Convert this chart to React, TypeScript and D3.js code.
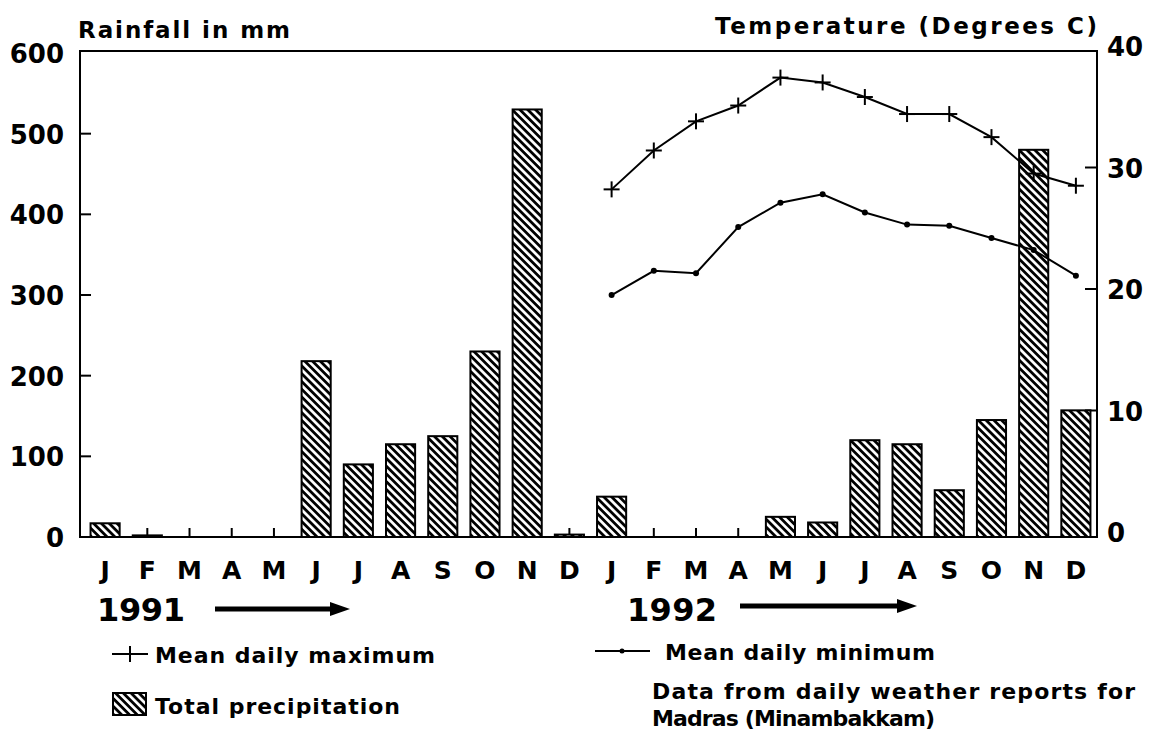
import React from "react";
import { scaleBand, scaleLinear, line } from "d3";

// month initials, 1991 then 1992
const months = ["J", "F", "M", "A", "M", "J", "J", "A", "S", "O", "N", "D"];
const years = ["1991", "1992"];

// total precipitation, mm
const rain1991 = [17, 2, 0, 0, 0, 218, 90, 115, 125, 230, 530, 3];
const rain1992 = [50, 0, 0, 0, 25, 18, 120, 115, 58, 145, 480, 157];

// temperatures, 1992 only (degrees C)
const tMax1992 = [28.2, 31.4, 33.8, 35.1, 37.4, 37.0, 35.8, 34.4, 34.4, 32.5, 29.5, 28.5];
const tMin1992 = [19.5, 21.5, 21.3, 25.1, 27.1, 27.8, 26.3, 25.3, 25.2, 24.2, 23.2, 21.1];

const rainTicks = [0, 100, 200, 300, 400, 500, 600];
const tempTicks = [0, 10, 20, 30, 40];

const keys = years.flatMap((y) => months.map((m, i) => `${y}-${i}`));
const rain = [...rain1991, ...rain1992];

export default function App() {
  const width = 1149;
  const height = 730;
  const left = 80;
  const right = 1097;
  const top = 51;
  const bottom = 537;
  const font = "'DejaVu Sans', 'Liberation Sans', sans-serif";

  const x = scaleBand<string>()
    .domain(keys)
    .range([84, right])
    .paddingInner(0.31)
    .paddingOuter(0.155);
  const yL = scaleLinear().domain([0, 600]).range([bottom, 53]);
  const yR = scaleLinear().domain([0, 40]).range([532, 46]);

  const cx = (k: string) => (x(k) as number) + x.bandwidth() / 2;
  const keys92 = keys.slice(12);

  const tempLine = line<number>()
    .x((_, i) => cx(keys92[i]))
    .y((d) => yR(d));

  const plus = (px: number, py: number, s: number, k: string) => (
    <g key={k} stroke="#000" strokeWidth={2}>
      <line x1={px - s} x2={px + s} y1={py} y2={py} />
      <line x1={px} x2={px} y1={py - s} y2={py + s} />
    </g>
  );

  const arrow = (x1: number, x2: number, y: number) => (
    <g>
      <line x1={x1} x2={x2 - 16} y1={y} y2={y} stroke="#000" strokeWidth={5} />
      <path d={`M${x2 - 20},${y - 7} L${x2},${y} L${x2 - 20},${y + 7} Z`} fill="#000" />
    </g>
  );

  return (
    <svg width={width} height={height} style={{ position: "absolute", left: 0, top: 0 }} fontFamily={font} fontWeight="bold">
      <defs>
        <pattern id="hatch" width={5.5} height={5.5} patternUnits="userSpaceOnUse" patternTransform="rotate(45)">
          <rect width={5.5} height={5.5} fill="#fff" />
          <rect width={5.5} height={2.8} fill="#000" />
        </pattern>
      </defs>
      <rect width={width} height={height} fill="#fff" />

      {/* axis titles */}
      <text x={78} y={38} fontSize={23} textLength={212}>Rainfall in mm</text>
      <text x={715} y={34} fontSize={23} textLength={382}>Temperature (Degrees C)</text>

      {/* left axis */}
      {rainTicks.map((d) => (
        <g key={d}>
          {d > 0 && d < 600 && <line x1={left} x2={left + 11} y1={yL(d)} y2={yL(d)} stroke="#000" strokeWidth={2} />}
          <text x={64} y={yL(d) + 10} fontSize={26} textAnchor="end">{d}</text>
        </g>
      ))}

      {/* right axis */}
      {tempTicks.map((d) => (
        <g key={d}>
          {d > 0 && d < 40 && <line x1={right - 12} x2={right} y1={yR(d)} y2={yR(d)} stroke="#000" strokeWidth={2} />}
          <text x={1107} y={yR(d) + 10} fontSize={26}>{d}</text>
        </g>
      ))}

      {/* small month ticks on baseline */}
      {keys.map((k) => (
        <line key={k} x1={cx(k)} x2={cx(k)} y1={bottom} y2={bottom - 9} stroke="#000" strokeWidth={2} />
      ))}

      {/* bars */}
      {keys.map((k, i) =>
        rain[i] > 0 ? (
          <rect
            key={k}
            x={x(k)}
            y={yL(rain[i])}
            width={x.bandwidth()}
            height={bottom - yL(rain[i])}
            fill="url(#hatch)"
            stroke="#000"
            strokeWidth={2}
          />
        ) : null
      )}

      {/* frame */}
      <rect x={left} y={top} width={right - left} height={bottom - top} fill="none" stroke="#000" strokeWidth={2} />

      {/* temperature lines */}
      <path d={tempLine(tMax1992) as string} fill="none" stroke="#000" strokeWidth={2} />
      {tMax1992.map((d, i) => plus(cx(keys92[i]), yR(d), 8, `mx${i}`))}
      <path d={tempLine(tMin1992) as string} fill="none" stroke="#000" strokeWidth={2} />
      {tMin1992.map((d, i) => (
        <circle key={`mn${i}`} cx={cx(keys92[i])} cy={yR(d)} r={3} fill="#000" />
      ))}

      {/* month labels */}
      {keys.map((k, i) => (
        <text key={k} x={cx(k)} y={579} fontSize={25} textAnchor="middle">
          {months[i % 12]}
        </text>
      ))}

      {/* years */}
      <text x={97} y={621} fontSize={32} textLength={88}>{years[0]}</text>
      {arrow(215, 350, 609)}
      <text x={627} y={621} fontSize={32} textLength={90}>{years[1]}</text>
      {arrow(740, 917, 606)}

      {/* legend */}
      <line x1={112} x2={148} y1={654} y2={654} stroke="#000" strokeWidth={2} />
      {plus(130, 654, 8, "lg")}
      <text x={155} y={663} fontSize={22} textLength={280}>Mean daily maximum</text>

      <line x1={595} x2={650} y1={651} y2={651} stroke="#000" strokeWidth={2} />
      <circle cx={622} cy={651} r={2.5} fill="#000" />
      <text x={665} y={660} fontSize={22} textLength={270}>Mean daily minimum</text>

      <rect x={113} y={693} width={33} height={22} fill="url(#hatch)" stroke="#000" strokeWidth={2} />
      <text x={155} y={714} fontSize={22} textLength={245}>Total precipitation</text>

      <text x={652} y={699} fontSize={22} textLength={483}>Data from daily weather reports for</text>
      <text x={652} y={726} fontSize={22} textLength={283}>Madras (Minambakkam)</text>
    </svg>
  );
}
